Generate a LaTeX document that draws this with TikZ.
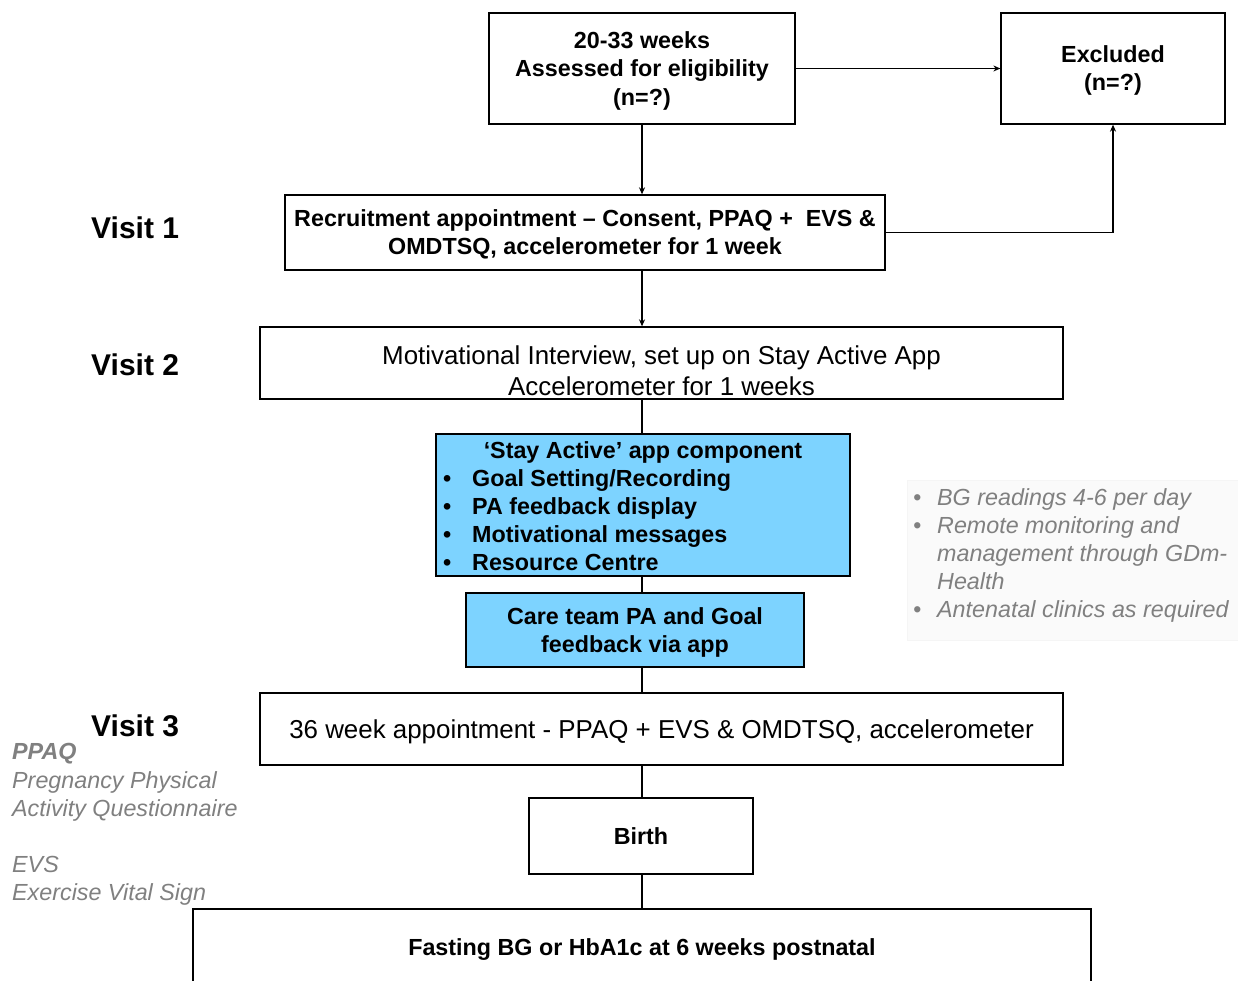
\documentclass[tikz,border=0pt]{standalone}
\usepackage{fontspec}
\setmainfont{Liberation Sans}
\usetikzlibrary{arrows.meta}
\definecolor{appblue}{RGB}{125,211,255}
\definecolor{graytxt}{RGB}{128,128,128}
\definecolor{graybg}{RGB}{250,250,250}
\begin{document}
\begin{tikzpicture}[x=1pt,y=-1pt,
  box/.style={draw=black, line width=1.3pt, inner sep=0pt, align=center},
  bft/.style={font=\fontsize{23.3}{28.5}\selectfont\bfseries},
  rft/.style={font=\fontsize{25.9}{31}\selectfont},
  link/.style={line width=1.6pt},
  arr/.style={link, -{Stealth[length=7pt,width=6pt]}},
  visit/.style={font=\fontsize{30}{34}\selectfont\bfseries, anchor=base west, inner sep=0pt},
  note/.style={font=\fontsize{23.3}{28}\selectfont\itshape, text=graytxt, anchor=base west, inner sep=0pt},
  item/.style={font=\fontsize{23.3}{28}\selectfont\bfseries, anchor=base west, inner sep=0pt}]
\useasboundingbox (0,0) rectangle (1238,981);
\clip (0,0) rectangle (1238,981);
\fill[white] (0,0) rectangle (1238,981);

% gray side panel
\path[fill=graybg, draw=black!4] (907,480) rectangle (1240,640);
\node[note] (n1) at (913,505.5) {\makebox[24pt][l]{•}BG readings 4-6 per day};
\node[note] (n2) at (913,533.5) {\makebox[24pt][l]{•}Remote monitoring and};
\node[note] (n3) at (937,561.5) {management through GDm-};
\node[note] (n4) at (937,589.5) {Health};
\node[note] (n5) at (913,617.5) {\makebox[24pt][l]{•}Antenatal clinics as required};

% boxes
\node[box, bft, minimum width=306pt, minimum height=111pt] (A) at (642,68.5) {\rule{0pt}{21pt}20-33 weeks\\Assessed for eligibility\\(n=?)};
\node[box, bft, minimum width=224pt, minimum height=111pt] (E) at (1113,68.5) {\rule{0pt}{21pt}Excluded\\(n=?)};
\node[box, bft, minimum width=600pt, minimum height=75pt] (R) at (585,232.5) {\rule{0pt}{21pt}Recruitment appointment -- Consent, PPAQ +\ \ EVS \&\\OMDTSQ, accelerometer for 1 week};
\node[box, minimum width=803pt, minimum height=72pt] (V2) at (661.5,363) {};
\node[rft, inner sep=0pt, align=center] (V2t) at (661.5,370.5) {Motivational Interview, set up on Stay Active App\\Accelerometer for 1 weeks};
\node[box, fill=appblue, minimum width=414pt, minimum height=142pt] (P) at (643,505) {};
\node[item, anchor=base] (Pt) at (643,458.5) {‘Stay Active’ app component};
\node[item] (i1) at (443,486.5) {\makebox[29pt][l]{•}Goal Setting/Recording};
\node[item] (i2) at (443,514.5) {\makebox[29pt][l]{•}PA feedback display};
\node[item] (i3) at (443,542.5) {\makebox[29pt][l]{•}Motivational messages};
\node[item] (i4) at (443,570.5) {\makebox[29pt][l]{•}Resource Centre};
\node[box, bft, fill=appblue, minimum width=338pt, minimum height=74pt] (C) at (635,630) {\rule{0pt}{22pt}Care team PA and Goal\\feedback via app};
\node[box, rft, text height=18.6pt, text depth=0pt, minimum width=803pt, minimum height=72pt] (V3) at (661.5,729) {36 week appointment - PPAQ + EVS \& OMDTSQ, accelerometer};
\node[box, bft, text height=16.7pt, text depth=0pt, minimum width=224pt, minimum height=76pt] (B) at (641,836) {Birth};
\node[box, bft, text height=16.7pt, text depth=0pt, minimum width=898pt, minimum height=76pt] (F) at (642,947) {Fasting BG or HbA1c at 6 weeks postnatal};

% visit labels
\node[visit] (v1) at (91,239) {Visit 1};
\node[visit] (v2) at (91,375) {Visit 2};
\node[visit] (v3) at (91,736) {Visit 3};

% left notes
\node[note, font=\fontsize{23.3}{28}\selectfont\bfseries\itshape] (l1) at (12,759.5) {PPAQ};
\node[note] (l2) at (12,788.5) {Pregnancy Physical};
\node[note] (l3) at (12,816.5) {Activity Questionnaire};
\node[note] (l4) at (12,872.5) {EVS};
\node[note] (l5) at (12,900.5) {Exercise Vital Sign};

% connectors
\draw[arr] (A.east) -- (E.west);
\draw[arr] (A.south) -- (A.south |- R.north);
\draw[arr] (R.east) -| (E.south);
\draw[arr] (A.south |- R.south) -- (A.south |- V2.north);
\draw[link] (A.south |- V2.south) -- (A.south |- P.north);
\draw[link] (A.south |- P.south) -- (A.south |- C.north);
\draw[link] (A.south |- C.south) -- (A.south |- V3.north);
\draw[link] (A.south |- V3.south) -- (A.south |- B.north);
\draw[link] (A.south |- B.south) -- (A.south |- F.north);
\end{tikzpicture}
\end{document}
